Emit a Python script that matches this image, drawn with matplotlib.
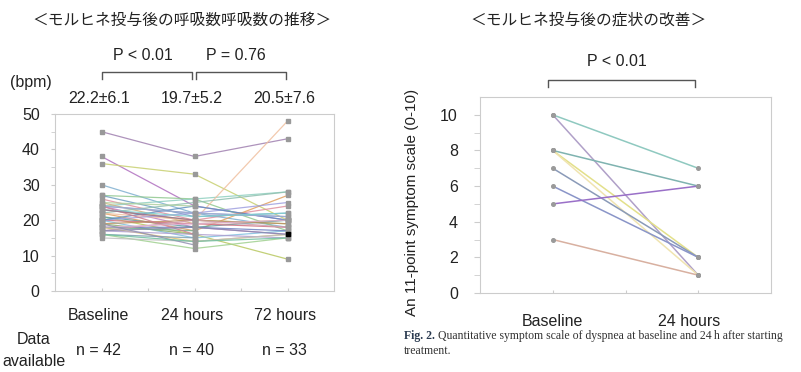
import numpy as np
import matplotlib
matplotlib.use("Agg")
import matplotlib.pyplot as plt

plt.rcParams['font.family'] = ['Liberation Sans', 'Noto Sans CJK JP', 'DejaVu Sans']

# ---------------- data ----------------
rr_times = ["Baseline", "24 hours", "72 hours"]
nan = np.nan
rr_baseline = [45, 38, 36, 30, 27, 26, 27, 24, 25, 24, 24, 23, 22, 22, 21, 21, 20, 20, 20, 19, 19,
               18, 18, 18, 17, 17, 16, 16, 15, 20, 22, 24, 24, 25, 18, 20, 23, 19, 17, 21, 23, 16]
rr_24h = [38, 24, 33, 22, 26, 20, 21, 26, 19, 22, 18, 20, 17, 20, 16, 18, 19, 15, 22, 16, 20,
          18, 14, 17, 16, 20, 15, 12, 14, 24, 25, 16, 22, 24, 19, nan, 21, 13, 18, nan, 20, 14]
rr_72h = [43, 20, 20, 18, 17, 24, 22, 28, 20, 21, 16, 19, 27, 48, 9, 20, 18, 17, 25, nan, 19,
          17, 16, nan, 15, 18, nan, 15, 16, 20, 28, nan, 21, nan, 20, nan, 22, nan, 16, nan, nan, 15]
rr_means = ["22.2\u00b16.1", "19.7\u00b15.2", "20.5\u00b17.6"]
rr_n = ["n = 42", "n = 40", "n = 33"]
rr_p = ["P < 0.01", "P = 0.76"]
rr_black_patient = 38  # patient whose 72-hour marker is drawn in black

sym_times = ["Baseline", "24 hours"]
sym_baseline = [10, 10, 8, 8, 8, 7, 6, 5, 3]
sym_24h = [7, 1, 6, 2, 1, 2, 2, 6, 1]
sym_p = "P < 0.01"

rr_colors = ['#a080b0', '#b070c0', '#c8d070', '#80b0d0', '#90c890', '#e090a0', '#70a0c0', '#90d0c0',
             '#d0b080', '#8090d0', '#c080c0', '#a0c070', '#e0a060', '#f0c0a0', '#b8c860', '#60a0a0',
             '#d07080', '#80c0e0', '#a0a0e0', '#90b070', '#c09060', '#7080c0', '#e0c070', '#70b090',
             '#b0a0d0', '#d0a0b0', '#80a0b0', '#a0d090', '#c0c0c0', '#6090c0', '#90c0b0', '#d08090',
             '#a0b0d0', '#b0d0a0', '#e0b0d0', '#c0a070', '#80d0d0', '#9090b0', '#8a8ab0', '#d0d090',
             '#a07090', '#70c0a0']
sym_colors = ['#8fc9c0', '#b0a0c8', '#7fb3b0', '#e3e08a', '#f0e4b0', '#8a9ab8', '#8a95c8', '#9a70c8', '#d8b0a0']

W, H = 801, 372
fig = plt.figure(figsize=(W / 100, H / 100), dpi=100)

def fx(px):
    return px / W

def fy(py):
    return 1 - py / H

spine_c = '#cccccc'
txt_c = '#222222'
fs = 11.5

# ---------------- left panel ----------------
ax1 = fig.add_axes([fx(55), fy(291), fx(334 - 55), (291 - 114) / H])
x = np.arange(1, 4)
for i in range(len(rr_baseline)):
    ys = np.array([rr_baseline[i], rr_24h[i], rr_72h[i]], dtype=float)
    ax1.plot(x, ys, color=rr_colors[i % len(rr_colors)], lw=0.9, alpha=0.85, zorder=2)
    ok = ~np.isnan(ys)
    ax1.plot(x[ok], ys[ok], ls='none', marker='s', ms=2.4, color='#999999', zorder=3)
ax1.plot([3], [rr_72h[rr_black_patient]], ls='none', marker='s', ms=3.2, color='#000000', zorder=4)
ax1.set_xlim(0.5, 3.5)
ax1.set_ylim(0, 50)
ax1.set_yticks([0, 10, 20, 30, 40, 50])
ax1.set_yticks([5, 15, 25, 35, 45], minor=True)
ax1.set_xticks([1, 1.5, 2, 2.5, 3])
ax1.set_xticklabels([])
for s in ax1.spines.values():
    s.set_color(spine_c)
ax1.tick_params(axis='y', which='both', length=3, color=spine_c, labelsize=fs, labelcolor=txt_c, pad=8)
ax1.tick_params(axis='x', length=2, color=spine_c, direction='in')

for xi, lab in zip(x, rr_times):
    ax1.text(xi - 0.03, -7, lab, ha='center', va='center', fontsize=fs, color=txt_c, clip_on=False)
for xi, lab in zip(x, rr_means):
    ax1.text(xi - 0.03, 54.5, lab, ha='center', va='center', fontsize=fs, color=txt_c, clip_on=False)
for xi, lab in zip(x, rr_n):
    ax1.text(xi - 0.03, -16.8, lab, ha='center', va='center', fontsize=fs, color=txt_c, clip_on=False)
# brackets
for (a, b), lab in zip([(1.01, 1.97), (2.02, 2.98)], rr_p):
    ax1.plot([a, a, b, b], [59.9, 61.9, 61.9, 59.9], color='#555555', lw=1.0, clip_on=False)
    ax1.text((a + b) / 2 - 0.05, 66.6, lab, ha='center', va='center', fontsize=fs, color=txt_c, clip_on=False)

fig.text(fx(31), fy(83), "(bpm)", ha='center', va='center', fontsize=fs, color=txt_c)
fig.text(fx(34), fy(340), "Data", ha='center', va='center', fontsize=fs, color=txt_c)
fig.text(fx(34), fy(361), "available", ha='center', va='center', fontsize=fs, color=txt_c)
fig.text(fx(182), fy(20), "\uff1cモルヒネ投与後の呼吸数呼吸数の推移\uff1e", ha='center', va='center',
         fontsize=11.3, color=txt_c, family=['Noto Sans CJK JP', 'DejaVu Sans'])

# ---------------- right panel ----------------
ax2 = fig.add_axes([fx(480), fy(293), fx(771 - 480), (293 - 97) / H])
x2 = np.arange(1, 3)
for i in range(len(sym_baseline)):
    ax2.plot(x2, [sym_baseline[i], sym_24h[i]], color=sym_colors[i], lw=1.1, zorder=2)
    ax2.plot(x2, [sym_baseline[i], sym_24h[i]], ls='none', marker='o', ms=2.6, color='#9a9a9a', zorder=3)
ax2.set_xlim(0.5, 2.5)
ax2.set_ylim(0, 11)
ax2.set_yticks([0, 2, 4, 6, 8, 10])
ax2.set_yticks([1, 3, 5, 7, 9], minor=True)
ax2.set_xticks([1, 1.5, 2])
ax2.set_xticklabels([])
for s in ax2.spines.values():
    s.set_color(spine_c)
ax2.tick_params(axis='y', which='both', length=4, color=spine_c, labelsize=fs, labelcolor=txt_c, pad=12)
ax2.tick_params(axis='x', length=2, color=spine_c, direction='in')
ax2.set_ylabel("An 11-point symptom scale (0-10)", fontsize=11, color=txt_c)
ax2.yaxis.set_label_coords(-0.21, 0.46)
for xi, lab in zip(x2, sym_times):
    ax2.text(xi - 0.03 * (xi - 1) * 2, -1.6, lab, ha='center', va='center', fontsize=fs, color=txt_c, clip_on=False)
ax2.plot([0.97, 0.97, 1.98, 1.98], [11.57, 11.97, 11.97, 11.57], color='#555555', lw=1.0, clip_on=False)
ax2.text(1.44, 12.98, sym_p, ha='center', va='center', fontsize=fs, color=txt_c, clip_on=False)
fig.text(fx(588), fy(20), "\uff1cモルヒネ投与後の症状の改善\uff1e", ha='center', va='center',
         fontsize=11.3, color=txt_c, family=['Noto Sans CJK JP', 'DejaVu Sans'])

# caption
cfs = 8.5
t1 = fig.text(fx(404), fy(336), "Fig. 2.", ha='left', va='center', fontsize=cfs, color='#2a3a50',
              family='Liberation Serif', weight='bold')
fig.canvas.draw()
bb = t1.get_window_extent()
fig.text((bb.x1 + 3) / W, fy(336), "Quantitative symptom scale of dyspnea at baseline and 24\u2009h after starting",
         ha='left', va='center', fontsize=cfs, color='#333333', family=['Liberation Serif', 'DejaVu Serif'])
fig.text(fx(404), fy(351), "treatment.", ha='left', va='center', fontsize=cfs, color='#333333',
         family='Liberation Serif')

fig.savefig("out.png", dpi=100)
